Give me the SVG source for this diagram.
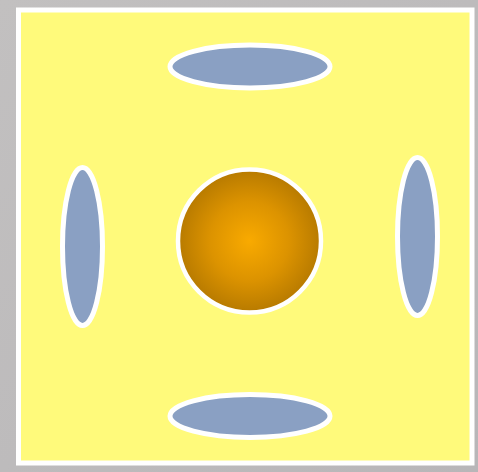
<svg xmlns="http://www.w3.org/2000/svg" width="478" height="472" viewBox="0 0 478 472">
<defs>
<radialGradient id="sun" cx="50%" cy="50%" r="50%">
<stop offset="0" stop-color="#f9aa00"/>
<stop offset="0.55" stop-color="#dc9300"/>
<stop offset="1" stop-color="#b77a00"/>
</radialGradient>
<linearGradient id="bg" x1="0" y1="0" x2="1" y2="1">
<stop offset="0" stop-color="#c2c0c0"/>
<stop offset="1" stop-color="#b8b6b8"/>
</linearGradient>
</defs>
<style>
.pad{fill:#8aa0c3;stroke:#ffffff;stroke-width:5}
</style>
<rect x="0" y="0" width="478" height="472" fill="url(#bg)"/>
<g id="board">
<rect x="18.5" y="10" width="453.5" height="453" fill="#fffa7b" stroke="#ffffff" stroke-width="5"/>
</g>
<g id="connectors"></g>
<g id="top"><ellipse class="pad" cx="250" cy="66.5" rx="80" ry="21.5"/></g>
<g id="bottom"><ellipse class="pad" cx="250" cy="416" rx="80" ry="21.5"/></g>
<g id="left"><ellipse class="pad" cx="82.5" cy="246.5" rx="20" ry="79"/></g>
<g id="right"><ellipse class="pad" cx="417.5" cy="236.5" rx="20" ry="79"/></g>
<g id="center"><circle cx="249.5" cy="241" r="71.5" fill="url(#sun)" stroke="#ffffff" stroke-width="4.5"/></g>
</svg>
